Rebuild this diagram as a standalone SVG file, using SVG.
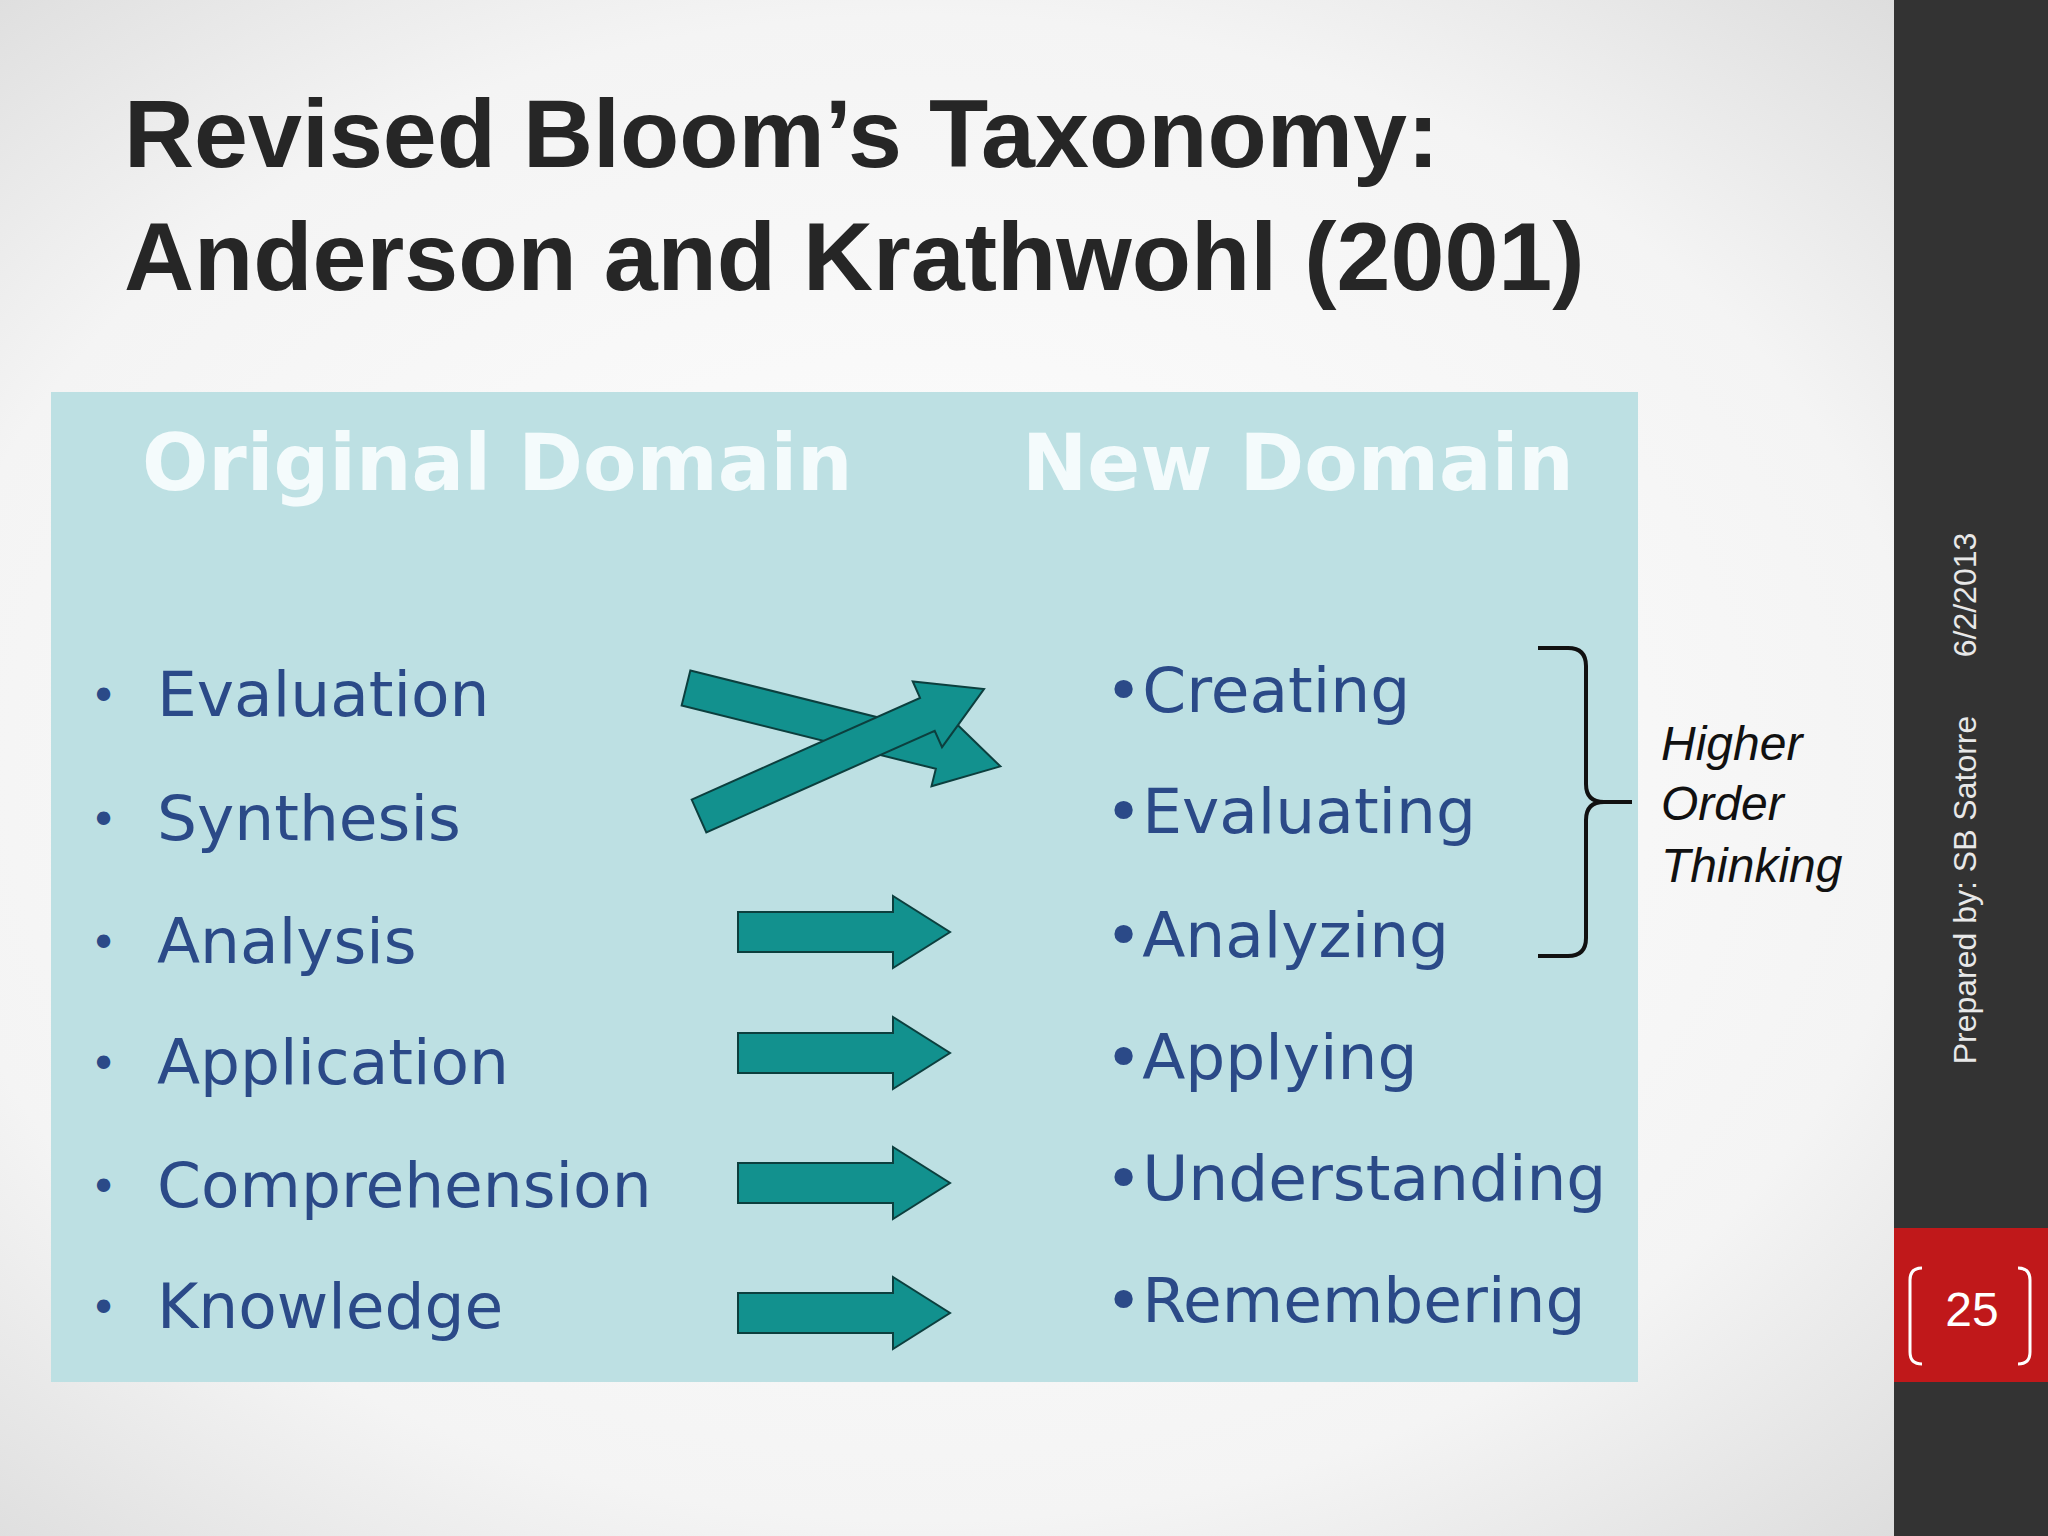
<svg xmlns="http://www.w3.org/2000/svg" width="2048" height="1536" viewBox="0 0 2048 1536">
<defs>
<radialGradient id="bg" cx="0.45" cy="0.5" r="0.7"><stop offset="0" stop-color="#ffffff"/><stop offset="0.7" stop-color="#f4f4f4"/><stop offset="1" stop-color="#dcdcdc"/></radialGradient>
<style>
.t{font-family:"Liberation Sans",Arial,sans-serif;font-weight:bold;font-size:97px;fill:#262626}
.h{font-family:"DejaVu Sans",sans-serif;font-weight:bold;font-size:78px;fill:#f4fbfc}
.i{font-family:"DejaVu Sans",sans-serif;font-size:63px;fill:#2b4a88}
.b{font-family:"DejaVu Sans",sans-serif;font-size:46px;fill:#2b4a88}
.arr{fill:#12918e;stroke:#0c3f3e;stroke-width:2}
.side{font-family:"Liberation Sans",Arial,sans-serif;font-size:32px;fill:#e8e8e8}
.hot{font-family:"Liberation Sans",Arial,sans-serif;font-style:italic;font-size:48px;fill:#111}
</style>
<polygon id="sa" class="arr" points="0,-20 155,-20 155,-36 212,0 155,36 155,20 0,20"/>
</defs>
<rect width="2048" height="1536" fill="url(#bg)"/>
<rect x="1894" y="0" width="154" height="1536" fill="#333333"/>
<rect x="1894" y="1228" width="154" height="154" fill="#c0181a"/>
<path d="M1922,1268 q-12,0 -12,12 v72 q0,12 12,12 M2018,1268 q12,0 12,12 v72 q0,12 -12,12" fill="none" stroke="#fff" stroke-width="3"/>
<text x="1972" y="1326" font-family="Liberation Sans,Arial,sans-serif" font-size="48" fill="#fff" text-anchor="middle">25</text>
<text class="side" transform="translate(1976,890) rotate(-90)" text-anchor="middle">Prepared by: SB Satorre</text>
<text class="side" transform="translate(1976,595) rotate(-90)" text-anchor="middle">6/2/2013</text>
<g id="title"><text class="t" x="124" y="167">Revised Bloom’s Taxonomy:</text><text class="t" x="124" y="290">Anderson and Krathwohl (2001)</text></g>
<rect x="51" y="392" width="1587" height="990" fill="#bde0e3"/>
<g id="headers"><text class="h" x="142" y="490">Original Domain</text><text class="h" x="1022" y="490">New Domain</text></g>
<g id="left">
<text class="b" x="90" y="712">•</text><text class="i" x="157" y="716">Evaluation</text>
<text class="b" x="90" y="836">•</text><text class="i" x="157" y="840">Synthesis</text>
<text class="b" x="90" y="959">•</text><text class="i" x="157" y="963">Analysis</text>
<text class="b" x="90" y="1080">•</text><text class="i" x="157" y="1084">Application</text>
<text class="b" x="90" y="1203">•</text><text class="i" x="157" y="1207">Comprehension</text>
<text class="b" x="90" y="1324">•</text><text class="i" x="157" y="1328">Knowledge</text>
</g>
<g id="right" class="i">
<text x="1105" y="712">•Creating</text>
<text x="1105" y="833">•Evaluating</text>
<text x="1105" y="957">•Analyzing</text>
<text x="1105" y="1079">•Applying</text>
<text x="1105" y="1200">•Understanding</text>
<text x="1105" y="1322">•Remembering</text>
</g>
<g id="connectors">
<polygon class="arr" transform="translate(686,688) rotate(14)" points="0,-18 262,-18 262,-36 324,0 262,36 262,18 0,18"/>
<polygon class="arr" transform="translate(699,816) rotate(-24)" points="0,-18 250,-18 250,-36 312,0 250,36 250,18 0,18"/>
<use href="#sa" x="738" y="932"/>
<use href="#sa" x="738" y="1053"/>
<use href="#sa" x="738" y="1183"/>
<use href="#sa" x="738" y="1313"/>
<path d="M1538,648 h30 q18,0 18,18 v118 q0,18 18,18 h28 M1604,802 q-18,0 -18,18 v118 q0,18 -18,18 h-30" fill="none" stroke="#111" stroke-width="4"/>
</g>
<g id="hot"><text class="hot" x="1661" y="760">Higher</text><text class="hot" x="1661" y="820">Order</text><text class="hot" x="1661" y="882">Thinking</text></g>
</svg>
